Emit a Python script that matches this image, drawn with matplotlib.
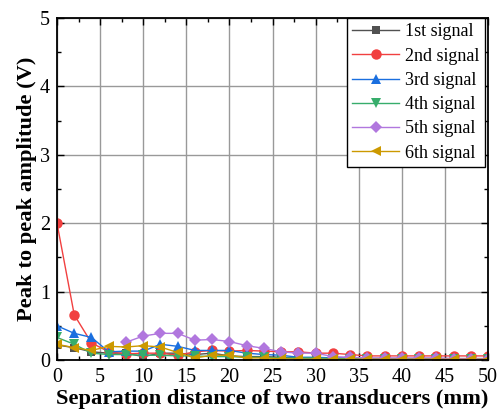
import numpy as np
import matplotlib
matplotlib.use("Agg")
import matplotlib.pyplot as plt
from matplotlib.ticker import MultipleLocator

plt.rcParams['font.family'] = ['Liberation Serif', 'DejaVu Serif']
plt.rcParams['mathtext.fontset'] = 'stix'

# Separation distance (mm)
distance = np.arange(0, 51, 2)

# Peak-to-peak amplitude (V) of each received signal
sig1 = [0.22, 0.18, 0.12, 0.10, 0.10, 0.05, 0.10, 0.10, 0.08, 0.10, 0.06, 0.05, 0.05,
        0.04, 0.03, 0.03, 0.03, 0.02, 0.02, 0.02, 0.02, 0.02, 0.02, 0.02, 0.02, 0.02]
sig2 = [2.00, 0.66, 0.25, 0.12, 0.09, 0.10, 0.10, 0.07, 0.12, 0.14, 0.13, 0.14, 0.13,
        0.12, 0.12, 0.10, 0.10, 0.08, 0.06, 0.06, 0.06, 0.06, 0.06, 0.06, 0.06, 0.06]
sig3 = [0.50, 0.39, 0.33, 0.12, 0.13, 0.13, 0.23, 0.20, 0.14, 0.14, 0.14, 0.10, 0.08,
        0.07, 0.04, 0.04, 0.03, 0.03, 0.02, 0.02, 0.02, 0.02, 0.02, 0.02, 0.02, 0.02]
sig4 = [0.33, 0.23, 0.10, 0.08, 0.08, 0.07, 0.07, 0.06, 0.06, 0.05, 0.05, 0.04, 0.04,
        0.03, 0.03, 0.03, 0.02, 0.02, 0.02, 0.02, 0.02, 0.02, 0.02, 0.02, 0.02, 0.02]
sig5 = [np.nan, np.nan, np.nan, np.nan, 0.26, 0.35, 0.39, 0.39, 0.29, 0.30, 0.27, 0.21,
        0.17, 0.12, 0.10, 0.10, 0.05, 0.04, 0.03, 0.03, 0.03, 0.03, 0.03, 0.02, 0.02, 0.02]
sig6 = [0.23, 0.18, 0.14, 0.20, 0.19, 0.21, 0.19, 0.11, 0.03, 0.07, 0.07, 0.03, 0.03,
        0.02, 0.01, 0.01, 0.01, 0.01, 0.01, 0.01, 0.01, 0.01, 0.01, 0.01, 0.01, 0.01]

labels = ['1st signal', '2nd signal', '3rd signal', '4th signal', '5th signal', '6th signal']
series = [sig1, sig2, sig3, sig4, sig5, sig6]
colors = ['#515151', '#F14040', '#1A6FDF', '#37AD6B', '#B177DE', '#CC9900']
markers = ['s', 'o', '^', 'v', 'D', '<']
msizes = [6, 7.5, 7.5, 7.5, 6.5, 7.5]

fig = plt.figure(figsize=(4.97, 4.13), dpi=100)
ax = fig.add_axes([0.1147, 0.1283, 0.8673, 0.8281])

for y, lab, c, m, ms in zip(series, labels, colors, markers, msizes):
    ax.plot(distance, y, color=c, marker=m, markersize=ms, linewidth=1.0,
            markeredgewidth=0, label=lab)

ax.set_xlim(0, 50)
ax.set_ylim(0, 5)
ax.xaxis.set_major_locator(MultipleLocator(5))
ax.xaxis.set_minor_locator(MultipleLocator(2.5))
ax.yaxis.set_major_locator(MultipleLocator(1))
ax.yaxis.set_minor_locator(MultipleLocator(0.5))
ax.grid(True, which='major', color='#999999', linewidth=1.0)
ax.set_axisbelow(True)

ax.tick_params(which='both', direction='in', top=True, right=True, labelsize=14.5,
               width=1.0)
ax.tick_params(axis='x', which='major', pad=6)
ax.tick_params(axis='y', which='major', pad=5)
ax.tick_params(which='major', length=5)
ax.tick_params(which='minor', length=3)
for s in ax.spines.values():
    s.set_linewidth(1.3)

ax.set_xlabel('Separation distance of two transducers (mm)', fontsize=16.2,
              fontweight='bold', labelpad=1)
ax.set_ylabel('Peak to peak amplitude (V)', fontsize=16.2, fontweight='bold', labelpad=2)

leg = ax.legend(loc='upper right', bbox_to_anchor=(0.992, 1.0), borderaxespad=0,
                fontsize=13, frameon=True, fancybox=False, handlelength=2.6,
                handletextpad=0.3, labelspacing=0.4, borderpad=0.3)
leg.get_frame().set_edgecolor('black')
leg.get_frame().set_linewidth(1.0)
leg.get_frame().set_alpha(1)

fig.savefig('out.png', dpi=100)
